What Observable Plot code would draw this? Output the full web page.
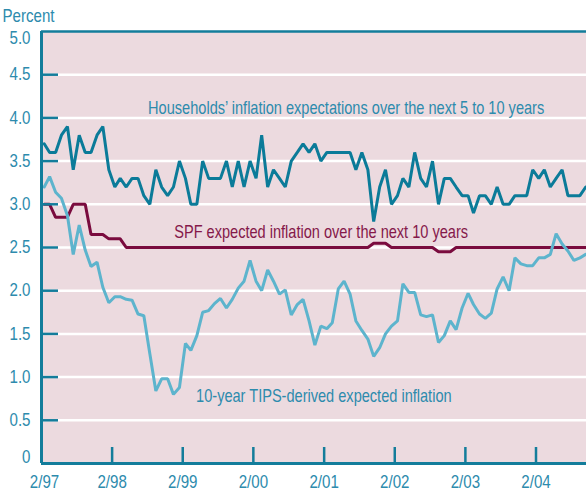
<!DOCTYPE html>
<html>
<head>
<meta charset="utf-8">
<script src="https://cdn.jsdelivr.net/npm/d3@7"></script>
<script src="https://cdn.jsdelivr.net/npm/@observablehq/plot@0.6"></script>
<style>
  html, body { margin: 0; padding: 0; background: #ffffff; }
  #chart svg { display: block; }
</style>
</head>
<body>
<div id="chart"></div>
<script>
// Monthly observations, first month = Feb 1997, last = Oct 2004
const households = [
  3.7,3.6,3.6,3.8,3.9,3.4,3.8,3.6,3.6,3.8,3.9,
  3.4,3.2,3.3,3.2,3.3,3.3,3.1,3.0,3.4,3.2,3.1,3.2,3.5,
  3.3,3.0,3.0,3.5,3.3,3.3,3.3,3.5,3.2,3.5,3.2,3.5,3.3,
  3.8,3.2,3.4,3.3,3.2,3.5,3.6,3.7,3.6,3.7,3.5,3.6,3.6,
  3.6,3.6,3.6,3.4,3.6,3.4,2.8,3.2,3.4,3.0,3.1,3.3,3.2,
  3.6,3.3,3.2,3.5,3.0,3.3,3.3,3.2,3.1,3.1,2.9,3.1,3.1,
  3.0,3.2,3.0,3.0,3.1,3.1,3.1,3.4,3.3,3.4,3.2,3.3,3.4,3.1,3.1,3.1,3.2
];
const tips = [
  3.20,3.32,3.14,3.07,2.87,2.42,2.76,2.47,2.28,2.33,
  2.04,1.86,1.93,1.93,1.90,1.89,1.73,1.71,1.27,0.84,
  0.98,0.98,0.80,0.88,1.39,1.31,1.48,1.75,1.77,1.85,
  1.91,1.80,1.90,2.03,2.11,2.35,2.11,2.00,2.24,2.11,
  1.96,2.01,1.72,1.84,1.90,1.65,1.37,1.59,1.56,1.63,
  2.02,2.11,1.96,1.65,1.54,1.44,1.24,1.34,1.50,1.59,
  1.65,2.08,1.98,1.98,1.72,1.70,1.72,1.40,1.48,1.65,
  1.55,1.80,1.97,1.84,1.73,1.68,1.74,2.02,2.16,2.00,
  2.38,2.31,2.29,2.29,2.38,2.38,2.42,2.66,2.54,2.46,
  2.35,2.38,2.42
];
const spf = [
  3.0,3.0,
  2.85,2.85,2.85,
  3.0,3.0,3.0,
  2.65,2.65,2.65,
  2.6,2.6,2.6,
  2.5,2.5,2.5,2.5,2.5,2.5,2.5,2.5,2.5,2.5,2.5,2.5,2.5,2.5,2.5,2.5,2.5,2.5,2.5,2.5,2.5,
  2.5,2.5,2.5,2.5,2.5,2.5,2.5,2.5,2.5,2.5,2.5,2.5,2.5,2.5,2.5,2.5,2.5,2.5,2.5,2.5,2.5,
  2.55,2.55,2.55,
  2.5,2.5,2.5,2.5,2.5,2.5,2.5,2.5,
  2.45,2.45,2.45,
  2.5,2.5,2.5,2.5,2.5,2.5,2.5,2.5,2.5,2.5,2.5,2.5,2.5,2.5,2.5,2.5,2.5,2.5,2.5,2.5,2.5,2.5,2.5
];

const yTicks = [0, 0.5, 1.0, 1.5, 2.0, 2.5, 3.0, 3.5, 4.0, 4.5, 5.0];
const yTickLabels = ["0","0.5","1.0","1.5","2.0","2.5","3.0","3.5","4.0","4.5","5.0"];
const xTickYears = [1997, 1998, 1999, 2000, 2001, 2002, 2003, 2004];
const xTickLabels = ["2/97","2/98","2/99","2/00","2/01","2/02","2/03","2/04"];

const seriesLabels = {
  households: "Households\u2019 inflation expectations over the next 5 to 10 years",
  spf: "SPF expected inflation over the next 10 years",
  tips: "10-year TIPS-derived expected inflation"
};

// ---- build tables ----
const monthDate = i => new Date(Date.UTC(1997, 1 + i, 15));
const toRows = arr => arr.map((v, i) => ({date: monthDate(i), value: v}));
const hhRows = toRows(households);
const tipsRows = toRows(tips);
const spfRows = toRows(spf);
const xTickDates = xTickYears.map(y => new Date(Date.UTC(y, 1, 1)));
const xDomain = [new Date(Date.UTC(1997, 1, 1)), new Date(Date.UTC(2004, 9, 19))];

const FONT = '"Liberation Sans", Arial, sans-serif';
const NARROW_TICKS = 0.84;   // horizontal compression to mimic a condensed face
const NARROW_NOTES = 0.81;
const teal = "#137d9b";
const textTeal = "#2d8bad";
const W = 586, H = 493, mL = 41, mR = 0, mT = 31, mB = 30;
const plotW = W - mL - mR, plotH = H - mT - mB;

const annotations = [
  {date: new Date(Date.UTC(1998, 7, 6)), value: 4.05, text: seriesLabels.households, color: "#2d8bad"},
  {date: new Date(Date.UTC(1998, 11, 19)), value: 2.61, text: seriesLabels.spf, color: "#85184a"},
  {date: new Date(Date.UTC(1999, 3, 11)), value: 0.71, text: seriesLabels.tips, color: "#2d8bad"}
];

const yFmt = d => yTickLabels[yTicks.indexOf(d)];
const xFmt = d => xTickLabels[xTickDates.findIndex(t => +t === +d)];
const innerY = yTicks.filter(d => d > 0 && d < 5);

const chart = Plot.plot({
  width: W, height: H,
  marginTop: mT, marginRight: mR, marginBottom: mB, marginLeft: mL,
  style: {fontFamily: FONT, fontSize: "18px", background: "#ffffff", overflow: "visible"},
  x: {type: "utc", domain: xDomain},
  y: {domain: [0, 5]},
  marks: [
    Plot.frame({fill: "#ecdadf", stroke: null}),
    Plot.ruleY(innerY, {stroke: "#ffffff", strokeWidth: 2.5}),
    Plot.line(spfRows, {x: "date", y: "value", stroke: "#7a0b3e", strokeWidth: 3, strokeLinejoin: "miter"}),
    Plot.line(tipsRows, {x: "date", y: "value", stroke: "#5db4cd", strokeWidth: 3, strokeLinejoin: "miter"}),
    Plot.line(hhRows, {x: "date", y: "value", stroke: "#0b7b99", strokeWidth: 3, strokeLinejoin: "miter"}),
    Plot.ruleY([0], {stroke: teal, strokeWidth: 3}),
    Plot.ruleY([5], {stroke: teal, strokeWidth: 2.5}),
    Plot.ruleX([xDomain[0]], {stroke: teal, strokeWidth: 3}),
    Plot.tickY(innerY, {y: d => d, stroke: teal, strokeWidth: 2.5, insetRight: plotW - 17}),
    Plot.tickX(xTickDates.slice(1), {x: d => d, stroke: teal, strokeWidth: 2.5, insetTop: plotH - 16}),
    // y labels: end labels nudged inside the frame as in the original
    Plot.axisY({ticks: innerY, tickSize: 0, tickPadding: 11, fill: textTeal, tickFormat: yFmt, label: null}),
    Plot.axisY({ticks: [5], tickSize: 0, tickPadding: 11, dy: 7, fill: textTeal, tickFormat: yFmt, label: null}),
    Plot.axisY({ticks: [0], tickSize: 0, tickPadding: 11, dy: -6, fill: textTeal, tickFormat: yFmt, label: null}),
    Plot.axisX({ticks: xTickDates.slice(1), tickSize: 0, tickPadding: 12, fill: textTeal, tickFormat: xFmt, label: null}),
    Plot.axisX({ticks: xTickDates.slice(0, 1), tickSize: 0, tickPadding: 12, dx: 3, fill: textTeal, tickFormat: xFmt, label: null}),
    Plot.text(["Percent"], {frameAnchor: "top-left", dx: -39, dy: -10, textAnchor: "start", lineAnchor: "bottom", fill: textTeal}),
    Plot.text(annotations, {x: "date", y: "value", text: "text", fill: "color", textAnchor: "start", lineAnchor: "bottom", className: "note"})
  ]
});
document.getElementById("chart").append(chart);
// condense all text horizontally (keeps glyph height, narrows width) by
// appending a horizontal scale to each text's own translate transform
chart.querySelectorAll("text").forEach(t => {
  const k = t.closest(".note") ? NARROW_NOTES : NARROW_TICKS;
  const tr = t.getAttribute("transform");
  const x = +(t.getAttribute("x") || 0);
  if (tr) {
    t.setAttribute("transform", tr + ` scale(${k},1)`);
  } else {
    t.setAttribute("transform", `translate(${x},0) scale(${k},1)`);
    t.setAttribute("x", 0);
  }
});
</script>
</body>
</html>
